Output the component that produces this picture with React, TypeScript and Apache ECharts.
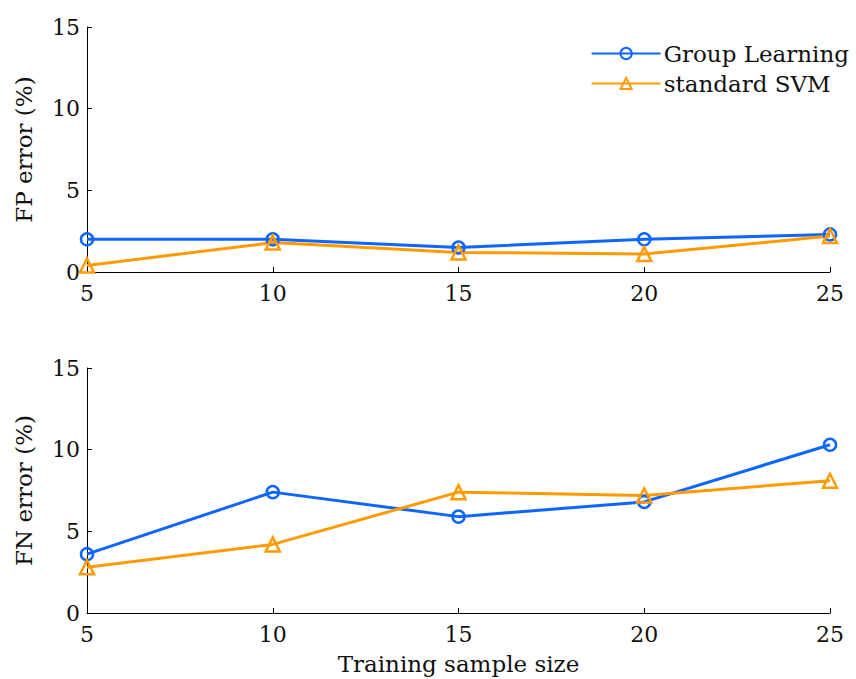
import React, { useEffect, useRef } from "react";
import * as echarts from "echarts";

const sampleSizes = [5, 10, 15, 20, 25];
const fpGroupLearning = [2.0, 2.0, 1.5, 2.0, 2.3];
const fpStandardSVM = [0.4, 1.8, 1.2, 1.1, 2.2];
const fnGroupLearning = [3.6, 7.4, 5.9, 6.8, 10.3];
const fnStandardSVM = [2.8, 4.2, 7.4, 7.2, 8.1];
const seriesNames = ["Group Learning", "standard SVM"];

const BLUE = "#0d66ff";
const ORANGE = "#ff9a00";
const FONT = "'DejaVu Serif', serif";
const FS = 22;
const FS_NAME = 23;

export default function App() {
  const ref = useRef<HTMLDivElement>(null);
  useEffect(() => {
    if (!ref.current) return;
    const chart = echarts.init(ref.current, undefined, { renderer: "svg" });
    const pairs = (ys: number[]) => sampleSizes.map((x, i) => [x, ys[i]]);
    const xAxisBase = (gridIndex: number) => ({
      type: "value" as const,
      gridIndex,
      min: 5,
      max: 25,
      interval: 5,
      axisLine: { show: true, lineStyle: { color: "#000", width: 1 } },
      axisTick: { show: true, inside: true, length: 5, lineStyle: { color: "#000" } },
      axisLabel: { color: "#111", fontFamily: FONT, fontSize: FS, margin: 10 },
      splitLine: { show: false },
    });
    const yAxisBase = (gridIndex: number, name: string) => ({
      type: "value" as const,
      gridIndex,
      min: 0,
      max: 15,
      interval: 5,
      name,
      nameLocation: "middle" as const,
      nameGap: 52,
      nameTextStyle: { color: "#111", fontFamily: FONT, fontSize: FS_NAME },
      axisLine: { show: true, lineStyle: { color: "#000", width: 1 } },
      axisTick: { show: true, inside: true, length: 5, lineStyle: { color: "#000" } },
      axisLabel: { color: "#111", fontFamily: FONT, fontSize: FS, margin: 7 },
      splitLine: { show: false },
    });
    const mkSeries = (name: string, data: number[], idx: number, color: string, symbol: string, size: number) => ({
      type: "line" as const,
      name,
      xAxisIndex: idx,
      yAxisIndex: idx,
      data: pairs(data),
      symbol,
      symbolSize: size,
      showAllSymbol: true,
      lineStyle: { color, width: 3 },
      itemStyle: { color: "rgba(255,255,255,0)", borderColor: color, borderWidth: 2.5 },
      emphasis: { disabled: true },
    });
    chart.setOption({
      animation: false,
      backgroundColor: "#fff",
      legend: {
        data: seriesNames,
        orient: "vertical",
        right: 2,
        top: 37,
        itemWidth: 69,
        itemHeight: 14,
        itemGap: 7,
        textStyle: { color: "#111", fontFamily: FONT, fontSize: FS_NAME, padding: [0, 0, 0, -2] },
      },
      grid: [
        { left: 87, right: 26, top: 27, height: 245 },
        { left: 87, right: 26, top: 368, height: 245 },
      ],
      xAxis: [
        xAxisBase(0),
        {
          ...xAxisBase(1),
          name: "Training sample size",
          nameLocation: "middle",
          nameGap: 39,
          nameTextStyle: { color: "#111", fontFamily: FONT, fontSize: FS_NAME },
        },
      ],
      yAxis: [yAxisBase(0, "FP error (%)"), yAxisBase(1, "FN error (%)")],
      series: [
        mkSeries(seriesNames[0], fpGroupLearning, 0, BLUE, "circle", 12),
        mkSeries(seriesNames[1], fpStandardSVM, 0, ORANGE, "triangle", 14),
        mkSeries(seriesNames[0], fnGroupLearning, 1, BLUE, "circle", 12),
        mkSeries(seriesNames[1], fnStandardSVM, 1, ORANGE, "triangle", 14),
      ],
    });
    return () => chart.dispose();
  }, []);
  return <div ref={ref} style={{ width: 856, height: 679, position: "absolute", left: 0, top: 0 }} />;
}
